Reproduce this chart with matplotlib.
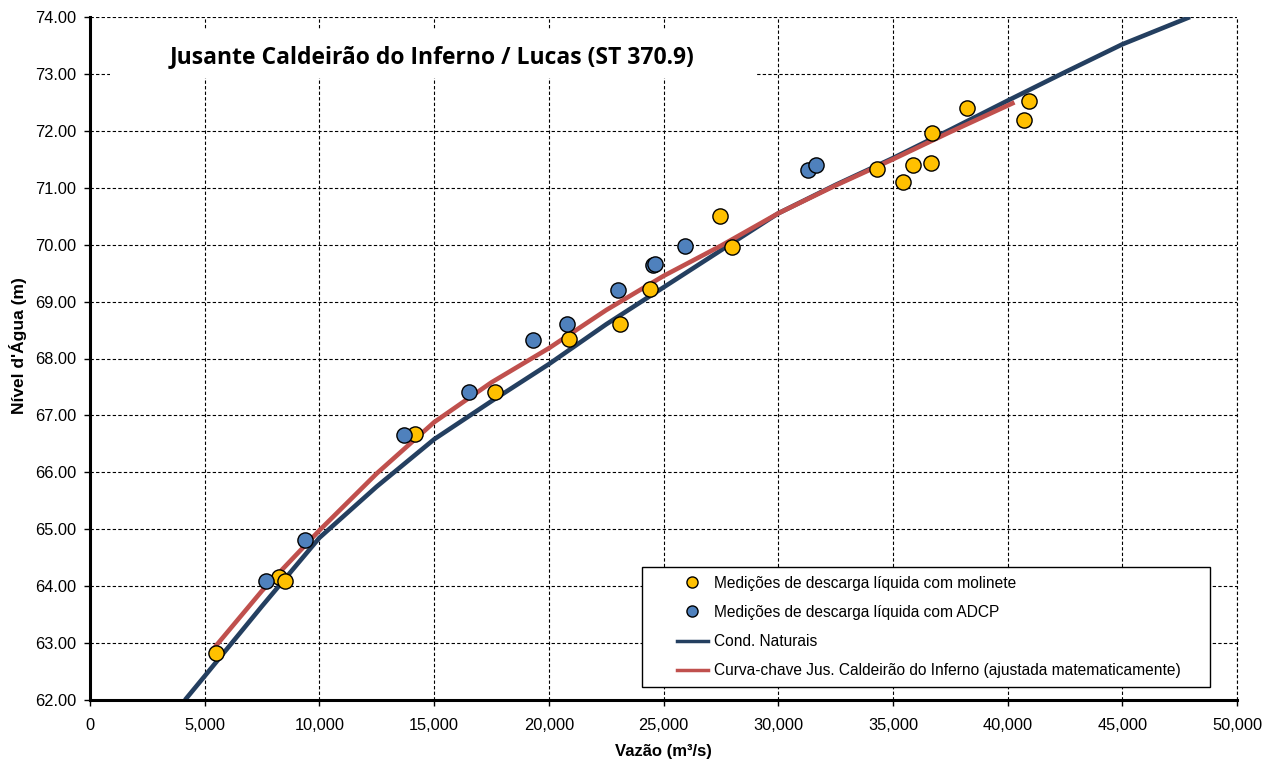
import matplotlib
matplotlib.use("Agg")
import matplotlib.pyplot as plt
from matplotlib.lines import Line2D
from matplotlib.legend_handler import HandlerLine2D
from matplotlib.patches import Rectangle
from matplotlib.ticker import FuncFormatter, MultipleLocator

# --- data ---
mol_q = [5500, 8240, 8500, 14170, 17650, 20880, 23100, 24400, 27460, 27990,
         34300, 35440, 35870, 36660, 36700, 38220, 40720, 40940]
mol_h = [62.82, 64.16, 64.09, 66.67, 67.42, 68.34, 68.61, 69.22, 70.50, 69.96,
         71.33, 71.10, 71.40, 71.43, 71.96, 72.40, 72.19, 72.52]

adcp_q = [7670, 9370, 13690, 16520, 19310, 20790, 23020, 24550, 24650, 25940, 31300, 31650]
adcp_h = [64.09, 64.81, 66.66, 67.41, 68.33, 68.60, 69.20, 69.64, 69.66, 69.97, 71.31, 71.40]

nat_q = [4140, 5000, 7500, 10000, 12500, 15000, 17500, 20000, 22500, 25000,
         27500, 30000, 32500, 35000, 37500, 40000, 42500, 45000, 47950]
nat_h = [62.00, 62.42, 63.65, 64.85, 65.75, 66.58, 67.25, 67.90, 68.60, 69.25,
         69.90, 70.55, 71.05, 71.52, 72.02, 72.53, 73.03, 73.52, 74.00]

fit_q = [5300, 7500, 10000, 12500, 15000, 17500, 20000, 22500, 25000, 27500,
         30000, 32500, 35000, 37500, 40300]
fit_h = [62.86, 63.92, 64.98, 65.98, 66.88, 67.58, 68.18, 68.85, 69.45, 69.98,
         70.55, 71.04, 71.50, 71.98, 72.50]

title = "Jusante Caldeirão do Inferno / Lucas (ST 370.9)"
labels = ["Medições de descarga líquida com molinete",
          "Medições de descarga líquida com ADCP",
          "Cond. Naturais",
          "Curva-chave Jus. Caldeirão do Inferno (ajustada matematicamente)"]

plt.rcParams['font.family'] = ['Liberation Sans', 'DejaVu Sans']

W, H = 1284, 762
fig = plt.figure(figsize=(W / 100, H / 100), dpi=100)
L, R, T, B = 90, 1237, 17, 700
ax = fig.add_axes([L / W, 1 - B / H, (R - L) / W, (B - T) / H])

def ax_x(px):
    return (px - L) / (R - L)

def ax_y(py):
    return (B - py) / (B - T)

ax.plot(nat_q, nat_h, color='#243F60', lw=3.3, zorder=3, solid_capstyle='butt')
ax.plot(fit_q, fit_h, color='#C0504D', lw=3.3, zorder=3, solid_capstyle='butt')
ax.scatter(mol_q, mol_h, s=120, color='#FFC000', edgecolor='black', linewidth=1.0, zorder=5)
ax.scatter(adcp_q, adcp_h, s=120, color='#4F81BD', edgecolor='black', linewidth=1.0, zorder=5)

ax.set_xlim(0, 50000)
ax.set_ylim(62, 74)
ax.xaxis.set_major_locator(MultipleLocator(5000))
ax.yaxis.set_major_locator(MultipleLocator(1))
ax.xaxis.set_major_formatter(FuncFormatter(lambda v, p: f"{int(v):,}"))
ax.yaxis.set_major_formatter(FuncFormatter(lambda v, p: f"{v:.2f}"))
grid_style = dict(color='black', linestyle=(0, (3, 2)), linewidth=0.8)
ax.grid(True, **grid_style)
ax.axvline(50000, clip_on=False, zorder=1, **grid_style)
ax.set_axisbelow(True)
for s in ['top', 'right']:
    ax.spines[s].set_visible(False)
for s in ['left', 'bottom']:
    ax.spines[s].set_linewidth(2.2)
    ax.spines[s].set_zorder(4)
ax.tick_params(axis='both', direction='out', length=4, width=1, labelsize=11.8, pad=6)
ax.tick_params(axis='x', pad=9)

ax.set_xlabel("Vazão (m³/s)", fontsize=12, fontweight='bold', labelpad=8)
ax.set_ylabel("Nível d'Água (m)", fontsize=12.5, fontweight='bold')
ax.yaxis.set_label_coords(-(L - 27) / (R - L), ax_y(346))

# title in white box
ax.add_patch(Rectangle((ax_x(110), ax_y(78)), ax_x(755) - ax_x(110), ax_y(30) - ax_y(78),
                       transform=ax.transAxes, facecolor='white', edgecolor='none', zorder=2))
ax.text(ax_x(170), ax_y(57), title, transform=ax.transAxes, fontsize=16.5, fontweight='bold',
        family=['Open Sans', 'DejaVu Sans'], va='center', ha='left', zorder=6)

handles = [Line2D([], [], marker='o', ls='none', markerfacecolor='#FFC000', markeredgecolor='black', markersize=8),
           Line2D([], [], marker='o', ls='none', markerfacecolor='#4F81BD', markeredgecolor='black', markersize=8),
           Line2D([], [], color='#243F60', lw=2.5),
           Line2D([], [], color='#C0504D', lw=2.5)]
fs = 11.2
leg = ax.legend(handles, labels, loc='upper left',
                bbox_to_anchor=(ax_x(642), ax_y(567), ax_x(1210) - ax_x(642), 0),
                mode='expand', borderaxespad=0, fontsize=fs, frameon=True, fancybox=False,
                edgecolor='black', framealpha=1, handlelength=3.7, handletextpad=0.38,
                labelspacing=0.92, borderpad=0.55,
                handler_map={Line2D: HandlerLine2D(xpad=1.67)})
leg.get_frame().set_linewidth(1.0)
leg.set_zorder(7)

fig.savefig("out.png", dpi=100)
